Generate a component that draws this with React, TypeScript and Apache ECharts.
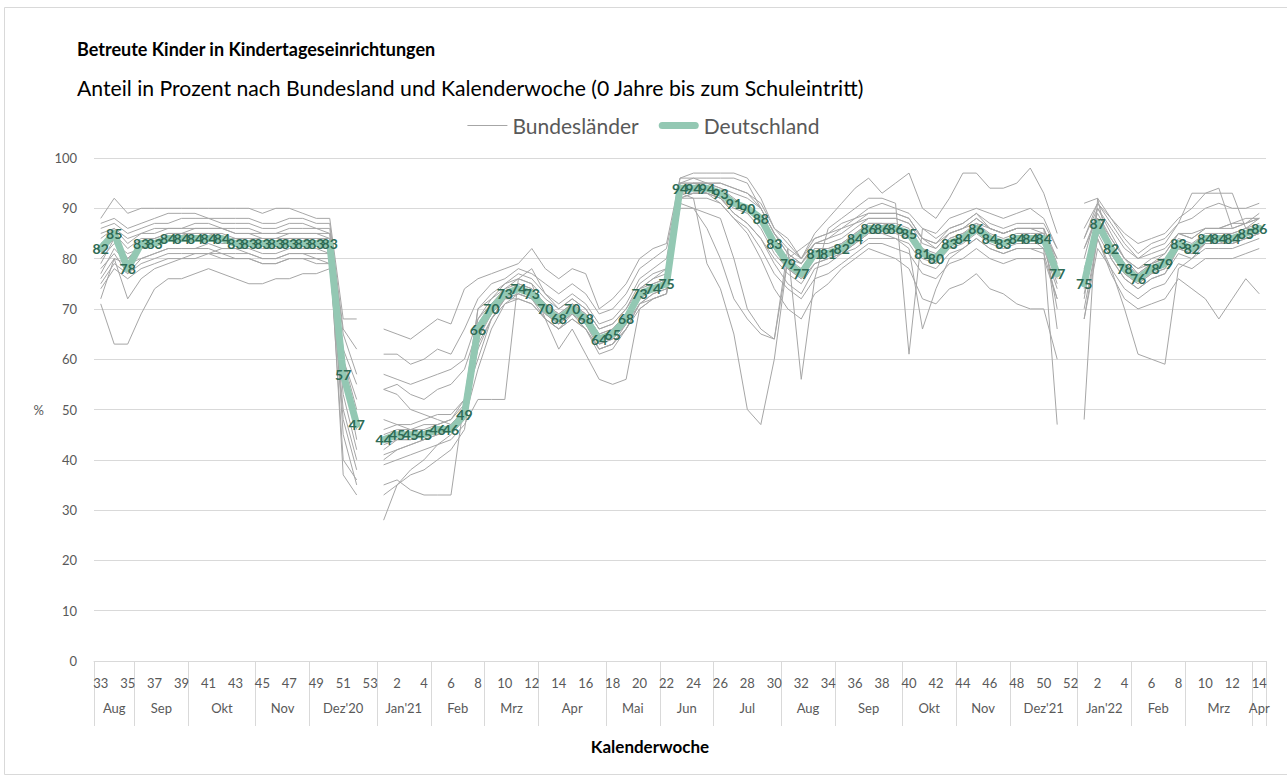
import React, { useEffect, useRef } from 'react';
import * as echarts from 'echarts';

const weeks = [
  '33','34','35','36','37','38','39','40','41','42','43','44','45','46','47','48','49','50','51','52','53',
  '1','2','3','4','5','6','7','8','9','10','11','12','13','14','15','16','17','18','19','20','21','22','23','24','25','26',
  '27','28','29','30','31','32','33','34','35','36','37','38','39','40','41','42','43','44','45','46','47','48','49','50','51','52',
  '1','2','3','4','5','6','7','8','9','10','11','12','13','14'
];

const monthNames = ['Aug','Sep','Okt','Nov',"Dez'20","Jan'21",'Feb','Mrz','Apr','Mai','Jun','Jul','Aug','Sep','Okt','Nov',"Dez'21","Jan'22",'Feb','Mrz','Apr'];
const monthWeekCounts = [3,4,5,4,5,4,4,4,5,4,4,5,4,5,4,4,5,4,4,5,1];

const deutschland = [
  82,85,78,83,83,84,84,84,84,84,
  83,83,83,83,83,83,83,83,57,47,
  null,44,45,45,45,46,46,49,66,70,
  73,74,73,70,68,70,68,64,65,68,
  73,74,75,94,94,94,93,91,90,88,
  83,79,77,81,81,82,84,86,86,86,
  85,81,80,83,84,86,84,83,84,84,
  84,77,null,75,87,82,78,76,78,79,
  83,82,84,84,84,85,86
];

const bl01 = [71,63,63,69,74,76,76,77,78,77, 76,75,75,76,76,77,77,78,60,52, null,41,42,43,44,45,46,50,62,68, 72,73,72,68,66,69,66,62,63,66, 71,73,74,93,94,93,92,89,87,84, 80,77,75,79,80,81,83,85,85,85, 84,80,79,82,83,85,83,82,83,83, 83,75,null,74,86,81,77,75,77,78, 82,81,83,83,83,84,85];
const bl02 = [88,92,89,90,90,90,90,90,90,90, 90,90,89,90,90,89,88,88,68,68, null,66,65,64,66,68,67,74,76,77, 78,79,82,78,76,78,77,70,72,75, 80,82,83,96,97,97,97,97,96,92, 86,84,80,84,85,87,88,90,91,90, 89,86,85,88,89,90,89,88,89,90, 88,82,null,91,92,88,84,81,83,84, 87,88,90,91,90,90,91];
const bl03 = [72,80,72,76,78,79,80,80,81,82, 82,81,80,80,81,81,80,80,55,48, null,45,46,46,47,47,48,52,68,71, 74,75,74,71,69,71,69,65,66,69, 74,75,76,94,95,95,94,92,90,88, 84,80,78,82,82,83,85,87,87,87, 86,82,80,84,85,87,85,84,85,85, 85,78,null,76,88,83,79,77,79,80, 84,83,85,85,85,86,87];
const bl04 = [76,80,79,82,83,84,84,85,85,84, 84,84,83,83,84,84,84,83,37,33, null,35,36,34,33,33,33,52,60,68, 72,74,73,70,67,70,67,63,64,67, 72,74,75,95,95,94,93,91,90,87, 82,78,76,80,81,82,84,86,86,86, 85,81,79,83,84,86,84,83,84,84, 84,76,null,72,88,84,80,78,79,80, 83,82,84,84,84,85,86];
const bl05 = [79,84,80,83,84,85,85,86,86,86, 85,85,84,84,85,85,85,84,45,35, null,28,35,38,40,43,45,48,58,66, 71,73,72,69,67,69,67,62,63,67, 72,74,76,94,95,95,95,94,93,91, 86,83,80,83,84,86,88,89,89,89, 88,84,82,85,86,88,86,85,86,86, 86,79,null,80,90,85,80,77,79,81, 85,84,86,86,87,88,88];
const bl06 = [85,86,84,85,86,86,86,87,87,86, 86,86,85,85,86,86,86,85,62,55, null,54,55,53,52,54,55,58,66,70, 73,75,74,71,69,71,69,65,66,69, 74,76,77,93,92,79,74,65,50,47, 60,80,82,84,85,86,87,88,88,88, 87,84,83,85,86,87,86,85,86,86, 85,80,null,84,90,86,82,80,81,82, 85,85,86,86,86,87,88];
const bl07 = [74,78,76,78,79,80,80,81,81,80, 80,80,79,79,80,80,79,79,50,40, null,39,40,41,42,43,44,47,52,52, 52,76,75,68,62,66,61,56,55,56, 70,72,73,92,93,93,92,90,89,86, 81,78,76,79,80,81,82,84,84,84, 83,79,78,81,82,84,82,81,82,82, 82,74,null,73,85,80,76,74,76,77, 81,80,82,82,82,83,84];
const bl08 = [80,83,81,82,83,84,85,84,84,84, 84,83,83,83,84,84,83,83,58,44, null,42,44,44,45,46,47,50,70,72, 74,76,78,73,70,72,70,66,67,70, 74,76,78,91,90,89,88,80,70,66, 64,82,56,76,86,88,90,92,92,91, 61,86,84,86,87,89,86,85,86,86, 86,80,null,82,88,83,79,76,78,79, 83,82,84,84,85,86,86];
const bl09 = [87,88,86,87,88,89,89,89,88,88, 88,88,87,87,88,88,87,87,66,62, null,61,61,59,60,62,61,66,72,75, 76,78,77,75,73,75,73,69,70,73, 78,80,82,95,96,96,96,96,95,90, 85,82,80,85,88,91,94,96,93,95, 97,90,88,92,97,97,94,94,95,98, 93,85,null,86,91,88,85,83,84,85, 88,90,93,93,93,86,88];
const bl10 = [78,81,77,80,81,82,82,82,82,81, 81,81,80,80,81,81,81,81,53,42, null,40,42,43,44,45,46,49,64,69, 72,73,72,69,67,69,67,63,64,67, 71,72,73,92,93,93,91,88,85,80, 74,70,68,73,75,78,80,82,81,80, 78,72,71,74,75,77,74,73,71,70, 70,60,null,68,82,78,74,72,74,75, 79,78,80,80,80,81,82];
const bl11 = [83,85,82,84,84,85,85,85,85,85, 84,84,84,84,84,84,84,84,56,46, null,43,44,44,45,46,46,49,67,71, 73,74,73,70,68,70,68,64,65,68, 73,74,75,94,94,94,93,91,90,88, 82,78,77,81,81,82,84,86,86,86, 85,81,80,83,84,86,84,83,84,84, 82,47,null,48,92,80,76,74,76,77, 82,81,83,83,83,84,85];
const bl12 = [81,84,80,82,83,84,84,84,84,83, 83,83,82,82,83,83,83,82,56,48, null,48,47,46,46,47,48,51,65,69, 72,72,71,68,66,68,66,62,63,66, 70,72,73,93,93,93,92,89,87,84, 79,75,73,78,79,81,83,85,85,84, 82,66,74,80,82,84,82,81,82,82, 81,72,null,70,84,78,70,61,60,59, 78,80,83,83,83,84,85];
const bl13 = [86,87,85,86,87,87,88,88,88,87, 87,87,86,86,87,87,86,86,65,57, null,57,56,55,56,57,58,60,68,72, 75,77,76,73,71,73,71,67,68,71, 76,78,80,95,95,95,95,94,93,90, 85,81,79,83,84,85,87,89,89,89, 88,84,83,86,87,89,87,86,87,87, 87,82,null,84,91,87,83,80,82,83, 87,93,93,94,86,87,89];
const bl14 = [75,79,77,79,80,81,81,81,81,81, 80,80,79,79,80,80,80,79,48,38, null,33,35,37,38,40,42,46,63,68, 71,72,71,68,66,68,66,61,62,66, 71,73,74,92,92,92,91,88,86,82, 77,74,72,76,77,79,81,83,83,82, 81,77,76,79,80,82,80,79,80,80, 80,72,null,68,84,77,72,70,71,72, 76,74,72,68,72,76,73];
const bl15 = [84,86,83,85,85,86,86,86,86,86, 85,85,85,85,85,85,85,85,60,50, null,46,47,47,48,49,49,52,70,73, 75,76,75,72,70,72,70,66,67,70, 75,77,78,96,96,95,94,93,92,90, 85,81,79,83,83,84,86,88,88,88, 87,83,82,85,86,88,86,85,86,86, 86,66,null,82,89,84,80,78,80,81, 85,84,86,86,87,87,88];
const bl16 = [77,82,79,80,81,82,82,82,83,82, 82,82,81,81,82,82,82,81,40,36, null,54,53,50,49,48,47,50,64,70, 73,74,73,70,68,70,68,64,65,68, 73,75,76,90,90,86,80,72,68,65, 64,80,79,82,82,83,85,87,87,86, 85,82,81,84,85,86,84,83,84,84, 84,70,null,78,86,81,77,75,77,78, 82,81,83,83,84,85,86];

const bundeslaender = [bl01,bl02,bl03,bl04,bl05,bl06,bl07,bl08,bl09,bl10,bl11,bl12,bl13,bl14,bl15,bl16];

const FONT = 'Lato';

export default function App() {
  const ref = useRef<HTMLDivElement>(null);
  useEffect(() => {
    if (!ref.current) return;
    const chart = echarts.init(ref.current, null, { renderer: 'svg' });

    const bounds: number[] = [0];
    const centers: number[] = [];
    monthWeekCounts.forEach((c) => {
      const start = bounds[bounds.length - 1];
      centers.push(start + c / 2);
      bounds.push(start + c);
    });

    const gray = '#a6a6a6';
    const green = '#93c8b3';
    const axisGray = '#d9d9d9';
    const textGray = '#595959';

    const series: any[] = bundeslaender.map((d) => ({
      type: 'line',
      name: 'Bundesländer',
      data: d,
      xAxisIndex: 0,
      yAxisIndex: 0,
      symbol: 'none',
      showSymbol: false,
      connectNulls: false,
      lineStyle: { color: gray, width: 1 },
      itemStyle: { color: gray },
      silent: true,
      z: 2,
    }));
    series.push({
      type: 'line',
      name: 'Deutschland',
      data: deutschland,
      xAxisIndex: 0,
      yAxisIndex: 0,
      symbol: 'circle',
      symbolSize: 1,
      showSymbol: true,
      connectNulls: false,
      lineStyle: { color: green, width: 7, cap: 'round', join: 'round' },
      itemStyle: { color: green },
      label: {
        show: true,
        position: 'inside',
        color: '#2e6b55',
        fontFamily: FONT,
        fontWeight: 'bold',
        fontSize: 14,
      },
      labelLayout: { hideOverlap: false },
      z: 5,
    });

    chart.setOption({
      animation: false,
      textStyle: { fontFamily: FONT },
      title: [
        {
          text: 'Betreute Kinder in Kindertageseinrichtungen',
          left: 77,
          top: 40,
          padding: 0,
          textStyle: { fontFamily: FONT, fontSize: 18, fontWeight: 'bold', color: '#000000' },
        },
        {
          text: 'Anteil in Prozent nach Bundesland und Kalenderwoche (0 Jahre bis zum Schuleintritt)',
          left: 77,
          top: 77,
          padding: 0,
          textStyle: { fontFamily: FONT, fontSize: 21.2, fontWeight: 'normal', color: '#000000' },
        },
      ],
      legend: {
        data: [
          { name: 'Bundesländer', icon: 'path://M0,0H40V1.2H0Z' },
          { name: 'Deutschland', icon: 'path://M3.5,0H36.5A3.5,3.5,0,0,1,36.5,7H3.5A3.5,3.5,0,0,1,3.5,0Z' },
        ],
        top: 110,
        left: 'center',
        itemWidth: 40,
        itemHeight: 12,
        itemGap: 20,
        symbolKeepAspect: true,
        itemStyle: { borderWidth: 0 },
        textStyle: { fontFamily: FONT, fontSize: 21, color: textGray },
      },
      grid: { left: 94, right: 21, top: 158, bottom: 115, containLabel: false },
      xAxis: [
        {
          type: 'category',
          data: weeks,
          boundaryGap: true,
          axisLine: { show: true, lineStyle: { color: axisGray } },
          axisTick: { show: false },
          axisLabel: { interval: 1, color: textGray, fontSize: 13, fontFamily: FONT, margin: 15 },
          splitLine: { show: false },
        },
        {
          type: 'value',
          position: 'bottom',
          min: 0,
          max: 87,
          axisLine: { show: false },
          splitLine: { show: false },
          axisTick: {
            show: true,
            inside: false,
            length: 65,
            customValues: bounds,
            lineStyle: { color: axisGray },
          },
          axisLabel: {
            show: true,
            customValues: centers,
            margin: 40,
            color: textGray,
            fontSize: 13,
            fontFamily: FONT,
            formatter: (v: number) => {
              const i = centers.findIndex((c) => Math.abs(c - v) < 0.01);
              return i >= 0 ? monthNames[i] : '';
            },
          },
        },
      ],
      yAxis: {
        type: 'value',
        min: 0,
        max: 100,
        interval: 10,
        name: '%',
        nameLocation: 'middle',
        nameRotate: 0,
        nameGap: 50,
        nameTextStyle: { color: textGray, fontSize: 13, fontFamily: FONT },
        axisLine: { show: false },
        axisTick: { show: false },
        axisLabel: { color: textGray, fontSize: 13, fontFamily: FONT, margin: 17 },
        splitLine: { lineStyle: { color: axisGray } },
      },
      graphic: [
        {
          type: 'rect',
          shape: { x: 4.5, y: 7.5, width: 1300, height: 767 },
          style: { fill: 'none', stroke: axisGray, lineWidth: 1 },
          silent: true,
          z: -10,
        },
        {
          type: 'text',
          x: 650,
          y: 746,
          style: {
            text: 'Kalenderwoche',
            fontFamily: FONT,
            fontSize: 17,
            fontWeight: 'bold',
            fill: '#000000',
            textAlign: 'center',
            textVerticalAlign: 'middle',
          },
        },
      ],
      series,
    });
    return () => chart.dispose();
  }, []);

  return (
    <div
      ref={ref}
      style={{ position: 'fixed', left: 0, top: 0, width: 1287, height: 776, background: '#ffffff' }}
    />
  );
}
